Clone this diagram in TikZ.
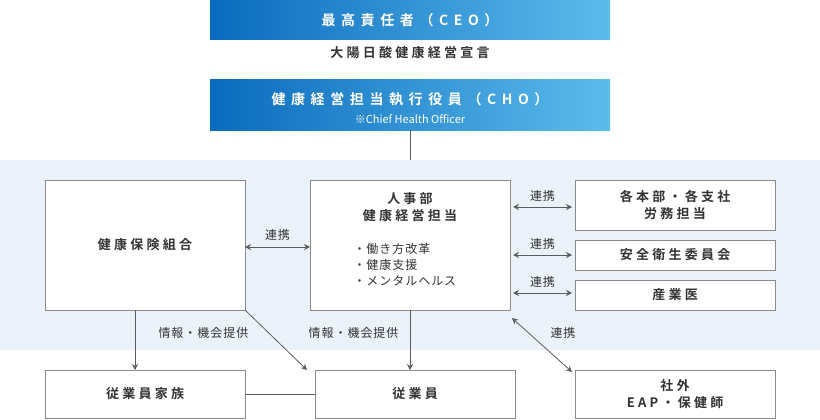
\documentclass[tikz,border=0pt]{standalone}
\usepackage{fontspec}
\setmainfont{Noto Sans CJK JP}
\newfontfamily\topf{Noto Sans CJK JP Bold}[LetterSpace=40]
\newfontfamily\boxf{Noto Sans CJK JP Bold}[LetterSpace=25]
\newfontfamily\labf{Noto Sans CJK JP}[LetterSpace=8]
\usetikzlibrary{arrows.meta}
\definecolor{band}{HTML}{EBF2FA}
\definecolor{txt}{HTML}{333333}
\definecolor{bd}{HTML}{8A8A8A}
\definecolor{gl}{HTML}{0A6BBE}
\definecolor{gr}{HTML}{5CBBEB}
\tikzset{
 top/.style={left color=gl,right color=gr,draw=none,minimum width=400pt,text=white,font=\topf\fontsize{14}{16}\selectfont,align=center,inner sep=0},
 wbox/.style={draw=bd,line width=0.8pt,fill=white,text=txt,font=\boxf\fontsize{13}{17}\selectfont,align=center,inner sep=0},
 lab/.style={text=txt,font=\labf\fontsize{12}{14}\selectfont},
 con/.style={draw=txt!80,line width=0.8pt},
 arr/.style={con,-{Stealth[length=6pt,width=6pt]}},
 darr/.style={con,{Stealth[length=6pt,width=6pt]}-{Stealth[length=6pt,width=6pt]}}
}
\begin{document}
\begin{tikzpicture}[x=1pt,y=-1pt]
\useasboundingbox (0,0) rectangle (820,420);
\fill[band] (0,160) rectangle (820,350);
\node[top,minimum height=40pt] (ceo) at (410,20) {最高責任者（CEO）};
\node[text=txt,font=\boxf\fontsize{13}{15}\selectfont] (decl) at (410,53) {大陽日酸健康経営宣言};
\node[top,minimum height=50pt] (cho) at (410,105) {};
\node[text=white,font=\topf\fontsize{14}{16}\selectfont] at (410,99) {健康経営担当執行役員（CHO）};
\node[text=white,font=\fontsize{11}{13}\selectfont] at (410,119) {※Chief Health Officer};
\coordinate (bt) at (410,160);
\draw[con] (cho.south) -- (bt);
\node[wbox,minimum width=200pt,minimum height=130pt] (kk) at (145,245) {健康保険組合};
\node[wbox,minimum width=200pt,minimum height=130pt] (jj) at (410,245) {};
\node[text=txt,font=\boxf\fontsize{13}{17}\selectfont,align=center] at (410,207) {人事部\\健康経営担当};
\node[text=txt,font=\labf\fontsize{12}{16}\selectfont,align=left,anchor=west] at (350,265) {・働き方改革\\・健康支援\\・メンタルヘルス};
\node[wbox,minimum width=200pt,minimum height=50pt] (r1) at (675,205) {各本部・各支社\\労務担当};
\node[wbox,minimum width=200pt,minimum height=30pt] (r2) at (675,255) {安全衛生委員会};
\node[wbox,minimum width=200pt,minimum height=30pt] (r3) at (675,295) {産業医};
\node[wbox,minimum width=200pt,minimum height=48pt] (fam) at (145,394) {従業員家族};
\node[wbox,minimum width=200pt,minimum height=48pt] (emp) at (415,394) {従業員};
\node[wbox,minimum width=200pt,minimum height=48pt] (ext) at (675,394) {社外\\EAP・保健師};
\draw[darr] (245,247) -- (310,247) node[midway,above=3pt,lab]{連携};
\draw[darr] (513,207) -- (572,207) node[midway,above=2pt,lab]{連携};
\draw[darr] (513,255) -- (572,255) node[midway,above=2pt,lab]{連携};
\draw[darr] (513,293) -- (572,293) node[midway,above=2pt,lab]{連携};
\draw[arr] (135,310) -- (135,370);
\node[lab,anchor=west] at (155,333) {情報・機会提供};
\draw[arr] (245,310) -- (307,370);
\draw[arr] (410,310) -- (410,370);
\node[lab,anchor=east] at (402,333) {情報・機会提供};
\draw[darr] (512,318) -- (572,372);
\node[lab] at (563,333) {連携};
\draw[con] (fam.east) -- (emp.west);
\end{tikzpicture}
\end{document}
